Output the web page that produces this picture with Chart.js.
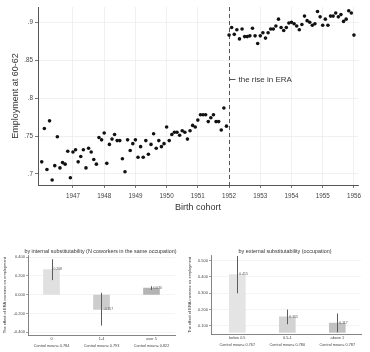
<!DOCTYPE html>
<html>
<head>
<meta charset="utf-8">
<script src="https://cdn.jsdelivr.net/npm/chart.js@4.4.0/dist/chart.umd.min.js"></script>
<style>
body { margin: 0; background: #fff; width: 370px; height: 352px; position: relative; overflow: hidden; }
canvas { position: absolute; }
</style>
</head>
<body>
<canvas id="topchart" width="370" height="215" style="left:0;top:0"></canvas>
<canvas id="leftchart" width="185" height="122" style="left:0;top:230px"></canvas>
<canvas id="rightchart" width="185" height="122" style="left:185px;top:230px"></canvas>
<script>
// monthly birth cohorts, Jan 1946 .. Jan 1956
var firstCohort = 1946;
var employment = [
  0.716, 0.760, 0.706, 0.770, 0.692, 0.711, 0.749, 0.708, 0.715, 0.713, 0.730, 0.695,
  0.729, 0.732, 0.716, 0.723, 0.732, 0.708, 0.734, 0.729, 0.719, 0.713, 0.748, 0.745,
  0.754, 0.714, 0.739, 0.746, 0.752, 0.744, 0.744, 0.720, 0.703, 0.745, 0.731, 0.740,
  0.745, 0.722, 0.736, 0.722, 0.744, 0.726, 0.739, 0.753, 0.734, 0.744, 0.736, 0.740,
  0.762, 0.744, 0.752, 0.755, 0.755, 0.751, 0.757, 0.755, 0.746, 0.757, 0.764, 0.762,
  0.771, 0.778, 0.778, 0.778, 0.769, 0.774, 0.778, 0.769, 0.769, 0.758, 0.787, 0.763,
  0.883, 0.893, 0.884, 0.890, 0.878, 0.891, 0.881, 0.881, 0.882, 0.892, 0.882, 0.872,
  0.882, 0.886, 0.879, 0.886, 0.891, 0.891, 0.895, 0.904, 0.893, 0.889, 0.893, 0.899,
  0.900, 0.898, 0.895, 0.890, 0.897, 0.908, 0.902, 0.900, 0.896, 0.898, 0.914, 0.907,
  0.896, 0.904, 0.896, 0.908, 0.908, 0.912, 0.907, 0.910, 0.901, 0.904, 0.915, 0.912,
  0.883
];
var yearTicks = [1947, 1948, 1949, 1950, 1951, 1952, 1953, 1954, 1955, 1956];
var empTicks = [0.7, 0.75, 0.8, 0.85, 0.9];
var eraYear = 1952;
var eraLabel = 'the rise in ERA';
var eraLabelY = 0.825;

var internalCats = ['0', '1-4', 'over 5'];
var internalMeans = ['Control mean= 0.784', 'Control mean= 0.793', 'Control mean= 0.822'];
var internalEffect = [0.268, -0.157, 0.070];
var internalLow = [0.155, -0.330, 0.050];
var internalHigh = [0.378, 0.020, 0.090];
var internalTicks = [-0.4, -0.2, 0, 0.2, 0.4];

var externalCats = ['below 0.5', '0.5-1', 'above 1'];
var externalMeans = ['Control mean= 0.767', 'Control mean= 0.780', 'Control mean= 0.787'];
var externalEffect = [0.415, 0.155, 0.117];
var externalLow = [0.300, 0.110, 0.060];
var externalHigh = [0.530, 0.200, 0.176];
var externalTicks = [0.1, 0.2, 0.3, 0.4, 0.5];

var FONT = '"Liberation Sans", Arial, sans-serif';
Chart.defaults.font.family = FONT;
Chart.defaults.color = '#333';

var points = employment.map(function (v, i) { return { x: firstCohort + i / 12, y: v }; });

var eraMarker = {
  id: 'eraMarker',
  beforeDatasetsDraw: function (chart) {
    var ctx = chart.ctx, a = chart.chartArea;
    var px = Math.round(chart.scales.x.getPixelForValue(eraYear)) + 0.5;
    var py = Math.round(chart.scales.y.getPixelForValue(eraLabelY)) + 0.5;
    ctx.save();
    ctx.strokeStyle = '#555';
    ctx.lineWidth = 1;
    ctx.setLineDash([4, 3]);
    ctx.beginPath();
    ctx.moveTo(px, a.top);
    ctx.lineTo(px, a.bottom);
    ctx.stroke();
    ctx.setLineDash([]);
    ctx.beginPath();
    ctx.moveTo(px, py);
    ctx.lineTo(px + 6, py);
    ctx.stroke();
    ctx.fillStyle = '#333';
    ctx.font = '8px ' + FONT;
    ctx.textBaseline = 'middle';
    ctx.fillText(eraLabel, px + 9, py);
    ctx.restore();
  }
};

new Chart(document.getElementById('topchart'), {
  type: 'scatter',
  data: {
    datasets: [{
      data: points,
      backgroundColor: '#111',
      borderWidth: 0,
      pointRadius: 1.8
    }]
  },
  options: {
    responsive: false,
    animation: false,
    layout: { padding: { left: 10, right: 12, top: 7, bottom: 2 } },
    plugins: { legend: { display: false }, tooltip: { enabled: false } },
    scales: {
      x: {
        type: 'linear',
        min: 1945.88,
        max: 1956.13,
        afterBuildTicks: function (s) { s.ticks = yearTicks.map(function (v) { return { value: v }; }); },
        afterFit: function (s) { s.height = 28; },
        ticks: { font: { size: 6.3 }, color: '#444', padding: 4, maxRotation: 0, autoSkip: false,
                 callback: function (v) { return String(v); } },
        grid: { color: '#ececec', lineWidth: 0.8, tickColor: '#555', tickLength: 3 },
        border: { color: '#555', width: 1 },
        title: { display: true, text: 'Birth cohort', font: { size: 9 }, color: '#333', padding: { top: 0, bottom: 0 } }
      },
      y: {
        min: 0.6855,
        max: 0.92,
        afterBuildTicks: function (s) { s.ticks = empTicks.map(function (v) { return { value: v }; }); },
        afterFit: function (s) { s.width = 28; },
        ticks: { font: { size: 6.3 }, color: '#444', padding: 2,
                 callback: function (v) { return String(+v.toFixed(2)).replace(/^0/, ''); } },
        grid: { color: '#ececec', lineWidth: 0.8, tickColor: '#555', tickLength: 3 },
        border: { color: '#555', width: 1 },
        title: { display: true, text: 'Employment at 60-62', font: { size: 9 }, color: '#333', padding: { top: 0, bottom: 0 } }
      }
    }
  },
  plugins: [eraMarker]
});

// error bars, value labels and a title centred over the plot region
function panelExtras(title, effect, low, high) {
  return {
    id: 'panelExtras',
    afterDatasetsDraw: function (chart) {
      var ctx = chart.ctx, a = chart.chartArea, xs = chart.scales.x, ys = chart.scales.y;
      ctx.save();
      ctx.beginPath();
      ctx.rect(a.left, a.top, a.right - a.left, a.bottom - a.top);
      ctx.clip();
      ctx.strokeStyle = '#5c5c5c';
      ctx.lineWidth = 1;
      for (var i = 0; i < effect.length; i++) {
        var px = Math.round(xs.getPixelForValue(i)) + 0.5;
        ctx.beginPath();
        ctx.moveTo(px, ys.getPixelForValue(high[i]));
        ctx.lineTo(px, ys.getPixelForValue(low[i]));
        ctx.stroke();
      }
      ctx.restore();
      ctx.save();
      ctx.fillStyle = '#555';
      ctx.font = '3.4px ' + FONT;
      ctx.textBaseline = 'middle';
      for (var j = 0; j < effect.length; j++) {
        ctx.fillText(effect[j].toFixed(3), xs.getPixelForValue(j) + 2, ys.getPixelForValue(effect[j]));
      }
      ctx.fillStyle = '#333';
      ctx.font = '5.4px ' + FONT;
      ctx.textAlign = 'center';
      ctx.fillText(title, (a.left + a.right) / 2 - 1, 21.3);
      ctx.restore();
    }
  };
}

function barPanel(id, title, cats, means, effect, low, high, ticks, ymin, ymax, base, xmin, xmax, colors, padTop, padRight, yWidth, xHeight) {
  new Chart(document.getElementById(id), {
    type: 'bar',
    data: {
      datasets: [{
        data: effect.map(function (v, i) { return { x: i, y: v }; }),
        backgroundColor: colors,
        borderWidth: 0,
        barThickness: 16,
        base: base
      }]
    },
    options: {
      responsive: false,
      animation: false,
      layout: { padding: { left: 2, right: padRight, top: padTop, bottom: 0 } },
      plugins: { legend: { display: false }, tooltip: { enabled: false } },
      scales: {
        x: {
          type: 'linear',
          offset: false,
          min: xmin,
          max: xmax,
          afterBuildTicks: function (s) { s.ticks = cats.map(function (c, i) { return { value: i }; }); },
          afterFit: function (s) { s.height = xHeight; },
          ticks: { font: { size: 3.8, lineHeight: 1.85 }, color: '#444', padding: 0.5, maxRotation: 0, autoSkip: false,
                   callback: function (v) { return [cats[v], means[v]]; } },
          grid: { display: false, drawTicks: false },
          border: { color: '#666', width: 0.8 }
        },
        y: {
          min: ymin,
          max: ymax,
          afterBuildTicks: function (s) { s.ticks = ticks.map(function (v) { return { value: v }; }); },
          afterFit: function (s) { s.width = yWidth; },
          ticks: { font: { size: 4 }, color: '#444', padding: 1,
                   callback: function (v) { return v.toFixed(3); } },
          grid: { color: '#ececec', lineWidth: 0.6, tickColor: '#666', tickLength: 2 },
          border: { color: '#666', width: 0.8 },
          title: { display: true, text: 'The effect of ERA increase on employment', font: { size: 4 }, color: '#333',
                   padding: { top: 0, bottom: 0 } }
        }
      }
    },
    plugins: [panelExtras(title, effect, low, high)]
  });
}

barPanel('leftchart', 'by internal substitutability (N coworkers in the same occupation)',
  internalCats, internalMeans, internalEffect, internalLow, internalHigh, internalTicks,
  -0.43, 0.42, 0, -0.47, 2.47, ['#e0e0e0', '#cdcdcd', '#b4b4b4'], 25.3, 10, 26, 17);

barPanel('rightchart', 'by external substitutability (occupation)',
  externalCats, externalMeans, externalEffect, externalLow, externalHigh, externalTicks,
  0.05, 0.53, 0.06, -0.526, 2.474, ['#e4e4e4', '#d3d3d3', '#c2c2c2'], 25.8, 9, 24, 18);
</script>
</body>
</html>
